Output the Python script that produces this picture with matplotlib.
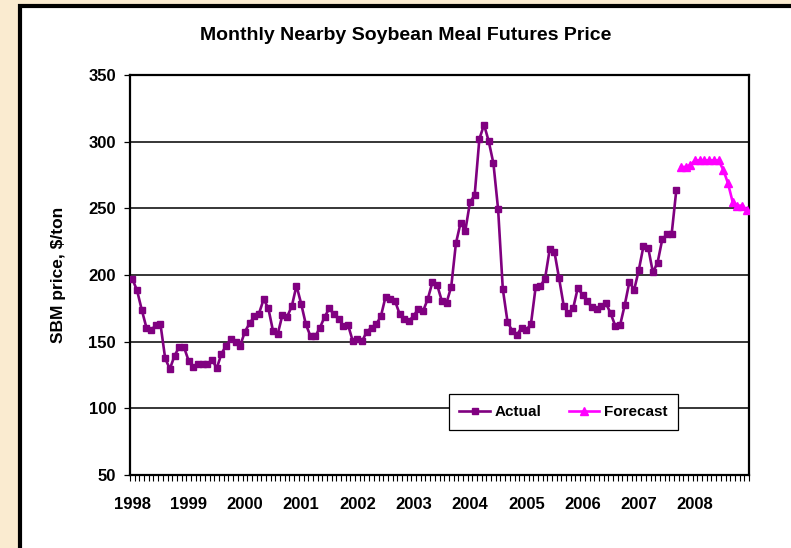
import numpy as np
import matplotlib
matplotlib.use("Agg")
import matplotlib.pyplot as plt
from matplotlib.patches import Rectangle

plt.rcParams['font.family'] = ['Liberation Sans', 'DejaVu Sans']
plt.rcParams['font.weight'] = 'bold'

# monthly nearby SBM price, $/ton, Jan 1998 - Sep 2007
actual = [197, 188.5, 174, 160.5, 158.5, 162.5, 163, 137.5, 129.5, 139.5, 146, 146,
          135.7, 130.7, 133, 133, 133, 136.5, 130, 141, 147, 152, 149.5, 147,
          157.5, 163.7, 169, 171, 181.8, 175, 158, 155.7, 170, 168.7, 176.5, 192,
          178.5, 163, 154, 154, 160.5, 168.5, 175, 170.5, 167, 161.7, 162.5, 150.5,
          152, 150.5, 157.5, 160.5, 163, 169, 183.7, 181.7, 180.7, 170.7, 167, 165.5,
          169.5, 174.7, 173, 182, 194.7, 192.5, 180.5, 179.2, 191.2, 223.7, 239.2, 233.2,
          254.5, 260, 302, 312.7, 300.2, 283.7, 249.2, 189.5, 165, 158, 155, 160.5,
          158.7, 163.2, 190.8, 191.7, 197.2, 219.2, 217.5, 197.5, 176.7, 171.2, 175, 190.5,
          185, 180.5, 175.7, 174.2, 177, 178.7, 171.2, 161.7, 162.2, 177.5, 195, 188.7,
          203.7, 221.7, 220.5, 202, 209.2, 226.7, 230.5, 230.5, 263.7]
# forecast, Oct 2007 - Dec 2008
forecast = [281, 281, 282.5, 286, 286, 286, 286, 286, 286, 279, 269, 255, 252, 252, 249]
years = [str(y) for y in range(1998, 2009)]

n_months = 132
x_act = np.arange(len(actual))
x_fc = np.arange(len(actual), len(actual) + len(forecast))

W, H = 791, 548
fig = plt.figure(figsize=(W / 100, H / 100), dpi=100)
fig.patch.set_facecolor('#FAEBD0')

# white chart box with thick black border (runs off right/bottom)
box = Rectangle((20 / W, -0.2), 1.2, 1.2 - 6 / H, transform=fig.transFigure,
                facecolor='white', edgecolor='black', linewidth=3, zorder=-5)
fig.patches.append(box)

ax = fig.add_axes([130 / W, 1 - 475 / H, 619 / W, 400 / H])
ax.set_facecolor('white')

ax.plot(x_act, actual, color='#800080', lw=1.9, marker='s', ms=5,
        mec='#800080', mfc='#800080', label='Actual', zorder=3)
ax.plot(x_fc, forecast, color='#FF00FF', lw=1.9, marker='^', ms=6,
        mec='#FF00FF', mfc='#FF00FF', label='Forecast', zorder=3)

ax.set_xlim(-0.5, n_months - 0.5)
ax.set_ylim(50, 350)
ax.set_yticks(np.arange(50, 351, 50))
for v in range(100, 350, 50):
    ax.axhline(v, color='black', lw=1.1, zorder=1)

ax.set_xticks(np.arange(0, n_months, 12))
ax.set_xticklabels(years)
ax.set_xticks(np.arange(-0.5, n_months, 1), minor=True)
ax.tick_params(axis='x', which='major', length=0, pad=16, labelsize=12)
ax.tick_params(axis='x', which='minor', length=4.5, width=0.8, direction='out')
ax.tick_params(axis='y', length=4, width=0.9, pad=6, labelsize=12)

for s in ax.spines.values():
    s.set_linewidth(1.6)
    s.set_color('black')

ax.set_ylabel('SBM price, $/ton', fontsize=12.5, fontweight='bold')
ax.yaxis.set_label_coords(-64 / 619, 0.5)

fig.text(406 / W, 1 - 35 / H, 'Monthly Nearby Soybean Meal Futures Price',
         ha='center', va='center', fontsize=14, fontweight='bold')

leg = ax.legend(loc='center', bbox_to_anchor=(563.5 / W, 1 - 412 / H),
                bbox_transform=fig.transFigure, ncol=2, fancybox=False,
                framealpha=1, edgecolor='black', fontsize=11,
                handlelength=2.0, columnspacing=1.8, handletextpad=0.3,
                borderpad=0.7)
leg.get_frame().set_linewidth(0.9)
for t in leg.get_texts():
    t.set_fontweight('bold')

fig.savefig('out.png', dpi=100, facecolor=fig.get_facecolor())
